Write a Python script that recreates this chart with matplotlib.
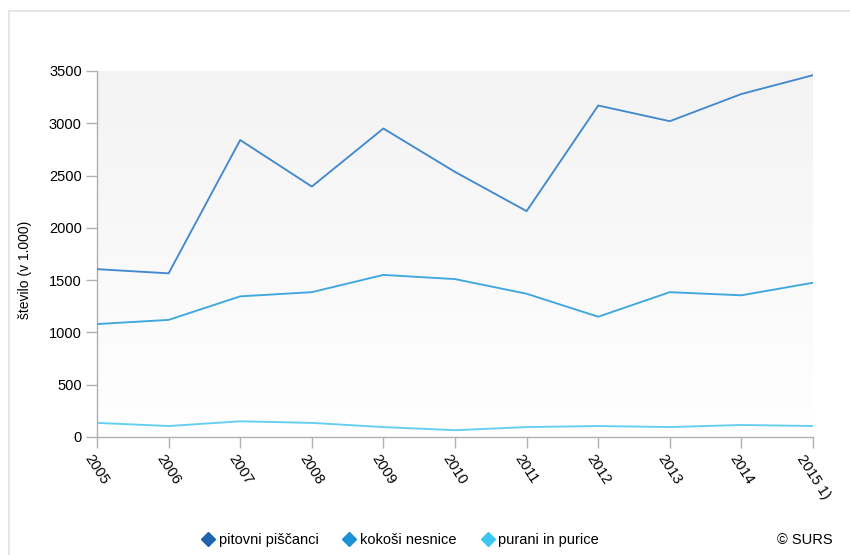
import matplotlib
matplotlib.use("Agg")
import matplotlib.pyplot as plt
import numpy as np
from matplotlib.lines import Line2D

plt.rcParams['font.family'] = ['Liberation Sans', 'DejaVu Sans']

years = ["2005", "2006", "2007", "2008", "2009", "2010", "2011", "2012", "2013", "2014", "2015 1)"]
pitovni = [1605, 1565, 2840, 2395, 2950, 2535, 2160, 3170, 3020, 3280, 3460]
kokosi = [1080, 1120, 1345, 1385, 1550, 1510, 1370, 1150, 1385, 1355, 1475]
purani = [135, 105, 150, 135, 95, 65, 95, 105, 95, 115, 105]
series_names = ["pitovni piščanci", "kokoši nesnice", "purani in purice"]
line_colors = ["#4389cd", "#3ea7df", "#62cff2"]
marker_colors = ["#1f62ad", "#1b92d6", "#3cc6f0"]

W, H = 850, 555
fig = plt.figure(figsize=(W / 100, H / 100), dpi=100)

# outer frame
fig.add_artist(Line2D([9 / W, 9 / W], [0, 1 - 11 / H], color="#e2e2e2", lw=1.2, transform=fig.transFigure))
fig.add_artist(Line2D([9 / W, 1], [1 - 11 / H, 1 - 11 / H], color="#e2e2e2", lw=1.2, transform=fig.transFigure))

left, right, top, bottom = 97, 813, 71, 437
ax = fig.add_axes([left / W, 1 - bottom / H, (right - left) / W, (bottom - top) / H])

x = np.arange(len(years))

# gradient background (grey at top, white at bottom)
grad = np.linspace(0, 1, 256).reshape(-1, 1)
c_top = np.array([0.953, 0.953, 0.953])
c_bot = np.array([1.0, 1.0, 1.0])
img = c_top + (c_bot - c_top) * grad[:, :, None] * np.ones((1, 2, 1))
ax.imshow(img, extent=[0, len(years) - 1, 0, 3500], origin="upper", aspect="auto", zorder=0)
ax.set_xlim(0, len(years) - 1)
ax.set_ylim(0, 3500)

for vals, col in zip([pitovni, kokosi, purani], line_colors):
    ax.plot(x, vals, color=col, lw=1.35, zorder=3, solid_joinstyle="round")

for s in ["top", "right"]:
    ax.spines[s].set_visible(False)
for s in ["left", "bottom"]:
    ax.spines[s].set_color("#b0b0b0")
    ax.spines[s].set_linewidth(1.0)

ax.set_yticks(np.arange(0, 3501, 500))
ax.set_yticklabels([str(v) for v in range(0, 3501, 500)], fontsize=10.5)
ax.set_xticks(x)
ax.set_xticklabels(years, fontsize=10.5, rotation=-57, ha="center", va="top")
ax.tick_params(axis="both", colors="#b0b0b0", labelcolor="#000000", length=8, width=1)
ax.tick_params(axis="x", pad=3)
ax.tick_params(axis="y", pad=3)

fig.text(25 / W, 1 - 270 / H, "število (v 1.000)", rotation=90, ha="center", va="center", fontsize=10)

# legend
handles = [Line2D([], [], marker="D", color="none", markerfacecolor=c, markeredgecolor=c, markersize=7.5)
           for c in marker_colors]
fig.legend(handles, series_names, loc="center", bbox_to_anchor=(400 / W, 1 - 540 / H), ncol=3,
           frameon=False, fontsize=10.5, handletextpad=0.25, columnspacing=1.6, handlelength=1.0)

fig.text(833 / W, 1 - 540 / H, "© SURS", ha="right", va="center", fontsize=10.5)

fig.savefig("out.png", dpi=100)
